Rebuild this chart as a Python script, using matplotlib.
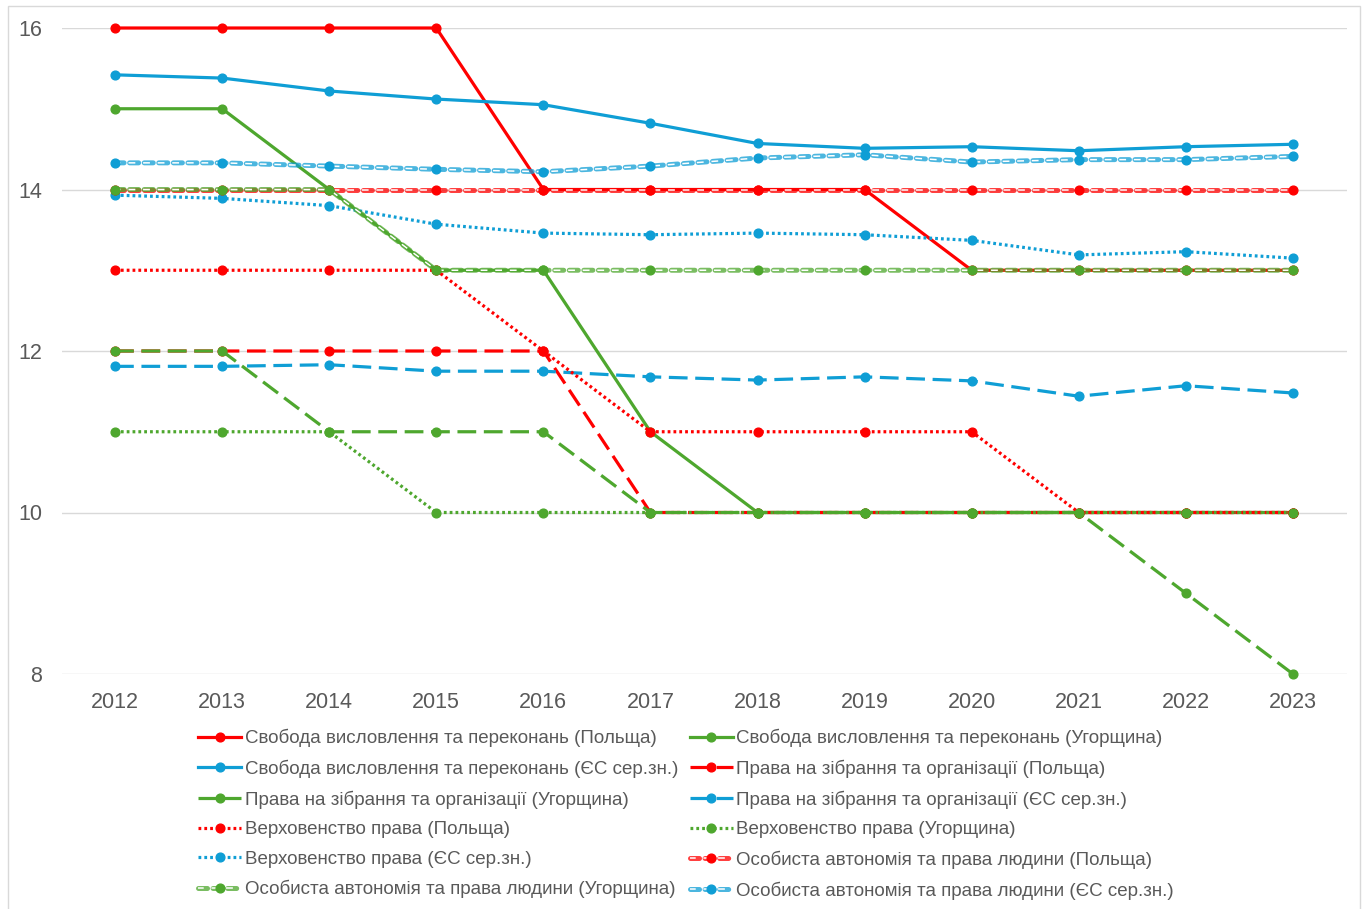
import matplotlib
matplotlib.use("Agg")
import matplotlib.pyplot as plt
from matplotlib.lines import Line2D
from matplotlib.legend_handler import HandlerTuple
from matplotlib.patches import Rectangle

plt.rcParams['font.family'] = ['Liberation Sans', 'DejaVu Sans']
plt.rcParams['lines.scale_dashes'] = False

years = list(range(2012, 2024))

labels = [
    "Свобода висловлення та переконань (Польща)",
    "Свобода висловлення та переконань (Угорщина)",
    "Свобода висловлення та переконань (ЄС сер.зн.)",
    "Права на зібрання та організації (Польща)",
    "Права на зібрання та організації (Угорщина)",
    "Права на зібрання та організації (ЄС сер.зн.)",
    "Верховенство права (Польща)",
    "Верховенство права (Угорщина)",
    "Верховенство права (ЄС сер.зн.)",
    "Особиста автономія та права людини (Польща)",
    "Особиста автономія та права людини (Угорщина)",
    "Особиста автономія та права людини (ЄС сер.зн.)",
]

speech_pl = [16, 16, 16, 16, 14, 14, 14, 14, 13, 13, 13, 13]
speech_hu = [15, 15, 14, 13, 13, 11, 10, 10, 10, 10, 10, 10]
speech_eu = [15.42, 15.38, 15.22, 15.12, 15.05, 14.82, 14.57, 14.51, 14.53, 14.48, 14.53, 14.56]
assembly_pl = [12, 12, 12, 12, 12, 10, 10, 10, 10, 10, 10, 10]
assembly_hu = [12, 12, 11, 11, 11, 10, 10, 10, 10, 10, 9, 8]
assembly_eu = [11.81, 11.81, 11.83, 11.75, 11.75, 11.68, 11.64, 11.68, 11.63, 11.44, 11.57, 11.48]
law_pl = [13, 13, 13, 13, 12, 11, 11, 11, 11, 10, 10, 10]
law_hu = [11, 11, 11, 10, 10, 10, 10, 10, 10, 10, 10, 10]
law_eu = [13.93, 13.89, 13.80, 13.57, 13.46, 13.44, 13.46, 13.44, 13.37, 13.19, 13.23, 13.15]
autonomy_pl = [14, 14, 14, 14, 14, 14, 14, 14, 14, 14, 14, 14]
autonomy_hu = [14, 14, 14, 13, 13, 13, 13, 13, 13, 13, 13, 13]
autonomy_eu = [14.33, 14.33, 14.29, 14.25, 14.22, 14.29, 14.39, 14.43, 14.34, 14.37, 14.37, 14.41]

series = [speech_pl, speech_hu, speech_eu, assembly_pl, assembly_hu, assembly_eu,
          law_pl, law_hu, law_eu, autonomy_pl, autonomy_hu, autonomy_eu]

RED = "#FF0000"
GREEN = "#4EA72E"
BLUE = "#0F9ED5"
colors = [RED, GREEN, BLUE] * 4
# solid, long dash, round dot, double dash
styles = ["solid"] * 3 + ["long"] * 3 + ["dot"] * 3 + ["double"] * 3

LONG = (0, (13.5, 5.5))
DOT = (0, (2.0, 2.2))
DASH = (0, (6.5, 4.0))
DASH_IN = (0.8, (4.9, 5.6))

fig = plt.figure(figsize=(13.68, 9.09), dpi=100)
ax = fig.add_axes([61.5 / 1368, (909 - 674) / 909, 1285 / 1368, 646 / 909])

legend_handles = []
for i, (vals, c, st) in enumerate(zip(series, colors, styles)):
    z = 3 + i * 0.1
    mk = dict(marker="o", markersize=6.3, markerfacecolor=c, markeredgecolor=c)
    if st == "double":
        ax.plot(years, vals, color=c, lw=3.6, alpha=0.75, linestyle=DASH,
                solid_capstyle="round", dash_capstyle="round",
                zorder=z, clip_on=False)
        ax.plot(years, vals, color="white", lw=1.1, linestyle=DASH_IN,
                zorder=z + 0.01, clip_on=False)
        ax.plot(years, vals, linestyle="none", zorder=z + 0.02, clip_on=False, **mk)
        h = (Line2D([], [], color=c, lw=3.6, alpha=0.75, linestyle=DASH,
                    dash_capstyle="round"),
             Line2D([], [], color="white", lw=1.1, linestyle=DASH_IN),
             Line2D([], [], linestyle="none", **mk))
    else:
        ls = {"solid": "-", "long": LONG, "dot": DOT}[st]
        ax.plot(years, vals, color=c, lw=2.3, linestyle=ls, zorder=z,
                clip_on=False, **mk)
        h = Line2D([], [], color=c, lw=2.3, linestyle=ls, **mk)
    legend_handles.append(h)

ax.set_xlim(2011.5, 2023.5)
ax.set_ylim(8, 16)
ax.set_yticks([8, 10, 12, 14, 16])
ax.set_xticks(years)
ax.set_xticklabels([str(y) for y in years])
ax.grid(axis="y", color="#D9D9D9", lw=1.0, zorder=0)
ax.set_axisbelow(True)
for s in ax.spines.values():
    s.set_visible(False)
ax.tick_params(axis="both", length=0, labelsize=15.5, colors="#595959")
ax.tick_params(axis="y", pad=14)
ax.tick_params(axis="x", pad=13)

# Excel fills legend row by row, matplotlib column by column
order = [0, 2, 4, 6, 8, 10, 1, 3, 5, 7, 9, 11]
leg = fig.legend([legend_handles[k] for k in order], [labels[k] for k in order],
                 handler_map={tuple: HandlerTuple(ndivide=1)},
                 ncol=2, loc="upper left", bbox_to_anchor=(198 / 1368, 1 - 729 / 909),
                 frameon=False, fontsize=13.5, handlelength=2.3, handletextpad=0.2,
                 columnspacing=0.6, labelspacing=0.66, borderpad=0, borderaxespad=0)
for t in leg.get_texts():
    t.set_color("#595959")

fig.patches.append(Rectangle((8 / 1368, -0.02), 1352 / 1368, (909 - 6) / 909 + 0.02,
                             transform=fig.transFigure, fill=False,
                             edgecolor="#D9D9D9", lw=1.0))

fig.savefig("out.png", dpi=100)
